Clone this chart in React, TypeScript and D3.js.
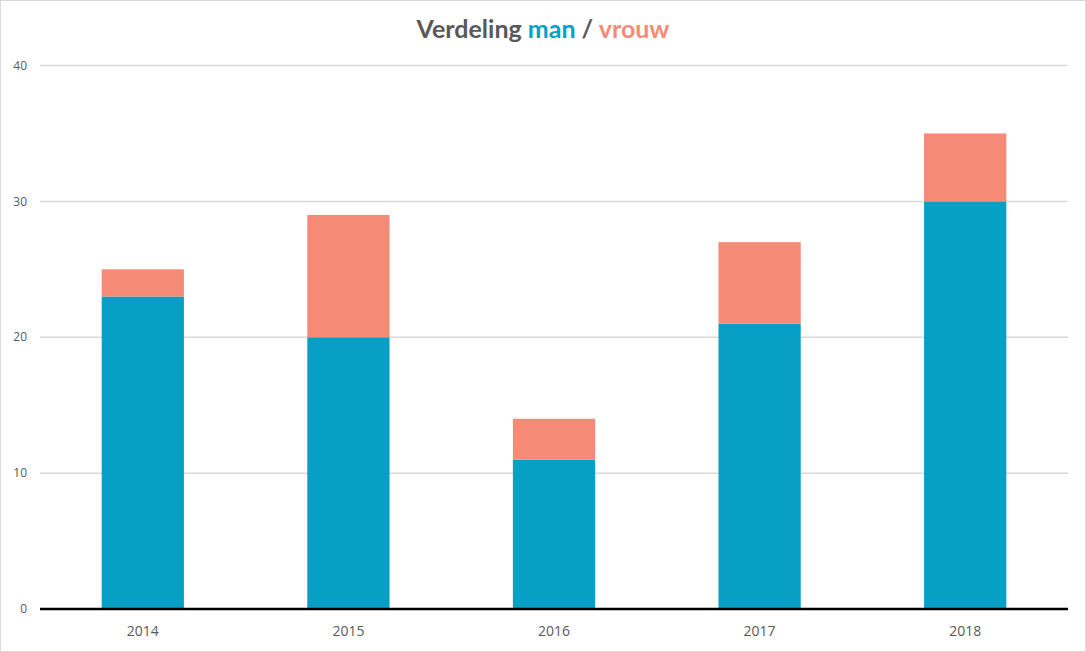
import React from "react";
import * as d3 from "d3";

const years = ["2014", "2015", "2016", "2017", "2018"];
const man = [23, 20, 11, 21, 30];
const vrouw = [2, 9, 3, 6, 5];
const yTicks = [0, 10, 20, 30, 40];

const W = 1086;
const H = 652;
const left = 40;
const right = 1068;
const top = 65.5;
const bottom = 609;
const BLUE = "#07A0C4";
const SALMON = "#F58B76";

export default function App() {
  const x = d3.scaleBand<string>().domain(years).range([left, right]).padding(0);
  const y = d3.scaleLinear().domain([0, 40]).range([bottom, top]);
  const bw = x.bandwidth() * 0.4;
  return (
    <svg
      width={W}
      height={H}
      style={{ position: "absolute", left: 0, top: 0, background: "#fff" }}
    >
      <rect x={0.5} y={0.5} width={W - 1} height={H - 1} fill="#fff" stroke="#d9d9d9" />
      <text
        x={W / 2}
        y={38}
        textAnchor="middle"
        fontFamily="Lato, 'Open Sans', sans-serif"
        fontWeight="bold"
        fontSize={25}
      >
        <tspan fill="#595959">Verdeling </tspan>
        <tspan fill={BLUE}>man</tspan>
        <tspan fill="#595959"> / </tspan>
        <tspan fill={SALMON}>vrouw</tspan>
      </text>
      {yTicks.map((t) => (
        <g key={t}>
          {t !== 0 && (
            <line x1={left} x2={right} y1={y(t)} y2={y(t)} stroke="#d9d9d9" strokeWidth={1.5} />
          )}
          <text
            x={27}
            y={y(t)}
            dy="0.35em"
            textAnchor="end"
            fontFamily="'Open Sans', sans-serif"
            fontSize={12}
            fill="#595959"
          >
            {t}
          </text>
        </g>
      ))}
      {years.map((yr, i) => {
        const cx = (x(yr) as number) + x.bandwidth() / 2;
        return (
          <g key={yr}>
            <rect x={cx - bw / 2} y={y(man[i])} width={bw} height={y(0) - y(man[i])} fill={BLUE} />
            <rect
              x={cx - bw / 2}
              y={y(man[i] + vrouw[i])}
              width={bw}
              height={y(man[i]) - y(man[i] + vrouw[i])}
              fill={SALMON}
            />
            <text
              x={cx}
              y={636}
              textAnchor="middle"
              fontFamily="'Open Sans', sans-serif"
              fontSize={14}
              fill="#595959"
            >
              {yr}
            </text>
          </g>
        );
      })}
      <line x1={left} x2={right} y1={y(0)} y2={y(0)} stroke="#000" strokeWidth={2.5} />
    </svg>
  );
}
